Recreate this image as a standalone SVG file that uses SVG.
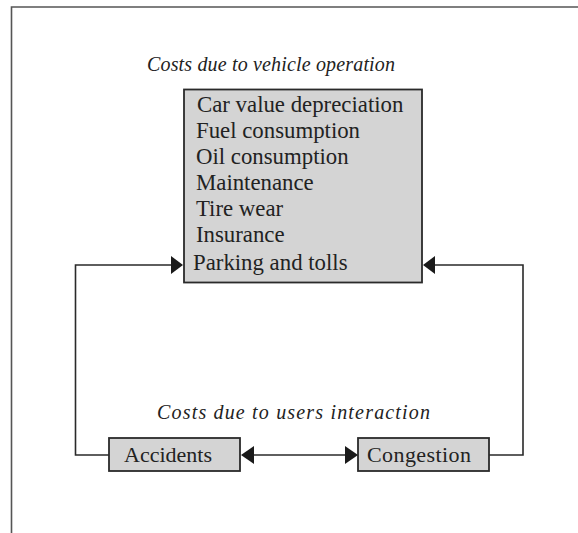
<svg xmlns="http://www.w3.org/2000/svg" width="578" height="533" viewBox="0 0 578 533">
  <style>
    .frame { fill: none; stroke: #555; stroke-width: 1.6; }
    .box { fill: #d4d4d4; stroke: #2a2a2a; stroke-width: 1.8; }
    .wire { fill: none; stroke: #2a2a2a; stroke-width: 1.6; }
    .head { fill: #1a1a1a; }
    .title { font-family: "Liberation Serif", "Times New Roman", serif; font-style: italic; font-size: 20px; fill: #222; }
    .item { font-family: "Liberation Serif", "Times New Roman", serif; font-size: 22.8px; fill: #222; }
    .label { font-family: "Liberation Serif", "Times New Roman", serif; font-size: 22px; fill: #222; }
  </style>

  <!-- open outer frame -->
  <path class="frame" d="M11.5,533 V7 H578"/>

  <text class="title" x="147" y="71" textLength="248" lengthAdjust="spacing">Costs due to vehicle operation</text>
  <text class="title" x="157" y="419" textLength="273" lengthAdjust="spacing">Costs due to users interaction</text>

  <g id="vehicle-costs">
    <rect class="box" x="184" y="89.5" width="238" height="193"/>
    <text class="item" x="197" y="112">Car value depreciation</text>
    <text class="item" x="196" y="138">Fuel consumption</text>
    <text class="item" x="196" y="164">Oil consumption</text>
    <text class="item" x="196" y="190">Maintenance</text>
    <text class="item" x="196" y="216">Tire wear</text>
    <text class="item" x="196" y="242">Insurance</text>
    <text class="item" x="193" y="270">Parking and tolls</text>
  </g>

  <g id="accidents">
    <rect class="box" x="109" y="438" width="131" height="33"/>
    <text class="label" x="124" y="462">Accidents</text>
  </g>

  <g id="congestion">
    <rect class="box" x="358" y="438" width="131" height="33"/>
    <text class="label" x="367" y="462" textLength="104" lengthAdjust="spacing">Congestion</text>
  </g>

  <g id="connectors">
    <!-- accidents feed back to vehicle costs -->
    <path class="wire" d="M109,455 H75.5 V265 H172"/>
    <polygon class="head" points="183,265 171,256 171,274"/>
    <!-- congestion feeds back to vehicle costs -->
    <path class="wire" d="M489,455 H523 V265 H434"/>
    <polygon class="head" points="423,265 435,256 435,274"/>
    <!-- mutual link between accidents and congestion -->
    <path class="wire" d="M253,455 H346"/>
    <polygon class="head" points="241,455 254,446 254,464"/>
    <polygon class="head" points="358,455 345,446 345,464"/>
  </g>
</svg>
